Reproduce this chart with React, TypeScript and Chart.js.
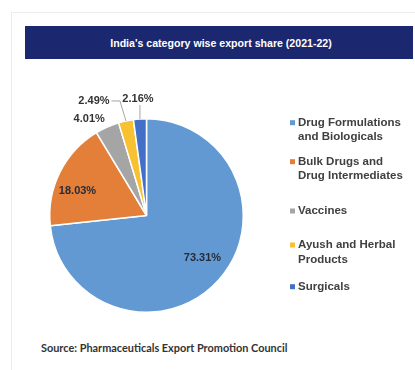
import React, { useEffect, useRef } from "react";
import { Chart, registerables } from "chart.js";

Chart.register(...registerables);

const TITLE = "India's category wise export share (2021-22)";
const SOURCE = "Source: Pharmaceuticals Export Promotion Council";
const categories: string[][] = [
  ["Drug Formulations", "and Biologicals"],
  ["Bulk Drugs and", "Drug Intermediates"],
  ["Vaccines"],
  ["Ayush and Herbal", "Products"],
  ["Surgicals"],
];
const shares: number[] = [73.31, 18.03, 4.01, 2.49, 2.16];
const colors: string[] = ["#6399d3", "#e47f3a", "#a5a5a5", "#f8c131", "#4170c6"];

// styling / placement for labels (not data)
const labelPlacement = [
  { inside: 0.75, dx: 2, dy: -6 },
  { inside: 0.75, dx: -4, dy: 8 },
  { dx: -18, dy: -8, leader: "none" },
  { dx: -32, dy: -20, leader: "elbow" },
  { dx: -2, dy: -20, leader: "straight" },
];
const legendRowsY = [122.7, 161.7, 211, 245, 286.7];

const labelPlugin = {
  id: "pctLabels",
  afterDatasetsDraw(chart: any) {
    const ctx = chart.ctx;
    const meta = chart.getDatasetMeta(0);
    ctx.save();
    ctx.font = "bold 11px 'Liberation Sans', Arial, sans-serif";
    ctx.textAlign = "center";
    ctx.textBaseline = "middle";
    meta.data.forEach((arc: any, i: number) => {
      const { x, y, startAngle, endAngle, outerRadius } = arc.getProps(
        ["x", "y", "startAngle", "endAngle", "outerRadius"],
        true
      );
      const mid = (startAngle + endAngle) / 2;
      const pl: any = labelPlacement[i];
      const text = shares[i].toFixed(2) + "%";
      if (pl.inside) {
        const r = outerRadius * pl.inside;
        ctx.fillStyle = "#262b38";
        ctx.fillText(text, x + Math.cos(mid) * r + pl.dx, y + Math.sin(mid) * r + pl.dy);
      } else {
        const px = x + Math.cos(mid) * outerRadius;
        const py = y + Math.sin(mid) * outerRadius;
        const lx = px + pl.dx;
        const ly = py + pl.dy;
        ctx.strokeStyle = "#a6a6a6";
        ctx.lineWidth = 1;
        if (pl.leader === "elbow") {
          const w = ctx.measureText(text).width;
          ctx.beginPath();
          ctx.moveTo(px, py);
          ctx.lineTo(px - 6, ly);
          ctx.lineTo(lx + w / 2 + 2, ly);
          ctx.stroke();
        } else if (pl.leader === "straight") {
          ctx.beginPath();
          ctx.moveTo(px, py);
          ctx.lineTo(px, ly + 6);
          ctx.stroke();
        }
        ctx.fillStyle = "#333333";
        ctx.fillText(text, lx, ly);
      }
    });
    ctx.restore();
  },
};

const legendPlugin = {
  id: "sideLegend",
  afterDraw(chart: any) {
    const ctx = chart.ctx;
    ctx.save();
    ctx.font = "bold 11.5px 'Liberation Sans', Arial, sans-serif";
    ctx.textAlign = "left";
    ctx.textBaseline = "middle";
    categories.forEach((lines, i) => {
      const y0 = legendRowsY[i];
      ctx.fillStyle = colors[i];
      ctx.fillRect(290, y0 - 2.5, 5, 5);
      ctx.fillStyle = "#404040";
      lines.forEach((ln, j) => {
        ctx.fillText(ln, 298, y0 + j * 14.6);
      });
    });
    ctx.restore();
  },
};

export default function App() {
  const ref = useRef<HTMLCanvasElement | null>(null);
  useEffect(() => {
    if (!ref.current) return;
    const chart = new Chart(ref.current, {
      type: "pie",
      data: {
        labels: categories.map((c) => c.join(" ")),
        datasets: [
          {
            data: shares,
            backgroundColor: colors,
            borderColor: "#ffffff",
            borderWidth: 1.5,
          },
        ],
      },
      options: {
        responsive: false,
        animation: false,
        layout: { padding: { left: 49, top: 118, right: 171, bottom: 57 } },
        plugins: {
          legend: { display: false },
          tooltip: { enabled: false },
        },
      },
      plugins: [labelPlugin, legendPlugin],
    });
    return () => chart.destroy();
  }, []);

  return (
    <div
      style={{
        position: "fixed",
        left: 0,
        top: 0,
        width: 415,
        height: 370,
        background: "#ffffff",
        overflow: "hidden",
      }}
    >
      <div
        style={{
          position: "absolute",
          left: 11,
          top: 12,
          width: 420,
          height: 400,
          borderLeft: "1px solid #ececec",
          borderTop: "1px solid #ececec",
        }}
      />
      <div
        style={{
          position: "absolute",
          left: 25,
          top: 26,
          width: 388,
          height: 33,
          background: "#1b276e",
          color: "#ffffff",
          fontFamily: "'Liberation Sans', Arial, sans-serif",
          fontWeight: "bold",
          fontSize: 10.6,
          display: "flex",
          alignItems: "center",
          justifyContent: "center",
          boxSizing: "border-box",
          paddingLeft: 4,
        }}
      >
        {TITLE}
      </div>
      <div
        style={{
          position: "absolute",
          left: 41,
          top: 341,
          fontFamily: "Lato, 'Noto Sans', sans-serif",
          fontWeight: "bold",
          fontSize: 10.9,
          color: "#333333",
          whiteSpace: "nowrap",
        }}
      >
        {SOURCE}
      </div>
      <canvas
        ref={ref}
        width={415}
        height={370}
        style={{ position: "absolute", left: 0, top: 0 }}
      />
    </div>
  );
}
